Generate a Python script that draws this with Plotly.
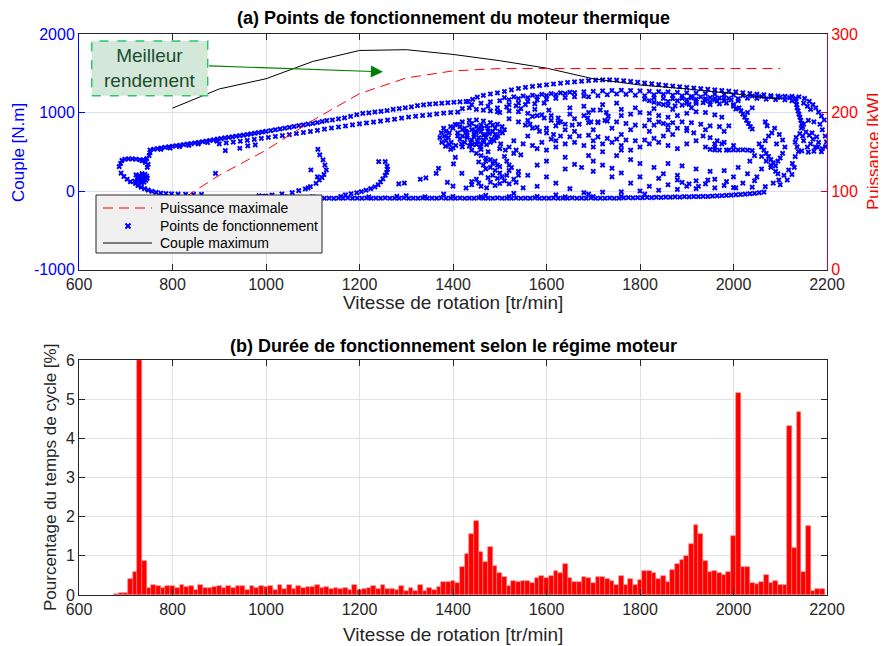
import plotly.graph_objects as go

# (a) courbes de pleine charge
regime_courbes = [800, 900, 1000, 1100, 1200, 1300, 1400, 1500, 1600, 1700, 1800, 1900, 2000, 2100]
puissance_max = [82, 120, 152, 190, 224, 244, 253, 256, 256, 256, 256, 256, 256, 256]
couple_max = [1055, 1300, 1430, 1650, 1790, 1800, 1740, 1660, 1565, 1430, 1350, 1300, 1240, 1170]

# points de fonctionnement (tr/min, N.m), relevés zone par zone
boucle_ralenti = [
    (686, 310), (689, 350), (692, 390), (698, 405), (706, 410), (714, 410), (722, 405), (730, 398),
    (738, 396), (745, 412), (750, 450), (752, 490), (690, 228), (696, 185), (703, 150), (710, 118),
    (722, 205), (725, 175), (727, 145), (730, 120), (734, 105), (739, 112), (743, 135), (746, 162),
    (745, 190), (741, 212), (735, 222), (729, 200), (732, 165), (736, 140), (740, 170), (737, 195),
    (731, 185), (726, 160), (719, 125), (721, 95), (726, 70), (733, 48), (740, 30), (748, 12),
    (756, -5), (765, -18), (775, -27), (786, -33), (798, -37), (812, -40), (828, -41), (845, -42),
    (862, -42), (746, 300), (748, 340), (742, 365), (735, 385),
]
bande_haute = [
    (752, 520), (760, 532), (768, 540), (776, 548), (784, 555), (792, 562), (800, 570), (808, 576),
    (816, 583), (824, 590), (832, 598), (840, 604), (848, 612), (856, 620), (864, 628), (872, 636),
    (880, 644), (888, 652), (896, 660), (904, 668), (912, 676), (920, 684), (928, 690), (936, 698),
    (944, 706), (952, 712), (960, 720), (968, 728), (976, 736), (984, 744), (992, 752), (1000, 760),
    (1010, 770), (1020, 780), (1030, 790), (1040, 800), (1050, 810), (1060, 822), (1070, 832),
    (1080, 842), (1090, 852), (1100, 862), (1110, 872), (1120, 885), (1130, 898), (1142, 905),
    (1155, 918), (1168, 932), (1181, 950), (1194, 972), (1207, 988), (1220, 996), (1233, 1006),
    (1246, 1015), (1259, 1025), (1272, 1040), (1285, 1050), (1298, 1060), (1311, 1072), (1324, 1088),
    (1337, 1098), (1350, 1106), (1363, 1112), (1376, 1118), (1389, 1124), (1402, 1130), (1415, 1136),
    (1428, 1140), (775, 530), (795, 548), (815, 565), (835, 582), (855, 600), (875, 618), (895, 636),
    (913, 515), (944, 544), (961, 574), (977, 587),
]
bande_basse = [
    (900, 600), (915, 612), (930, 622), (945, 634), (960, 645), (975, 658), (990, 670), (1005, 682),
    (1020, 694), (1035, 706), (1050, 718), (1065, 732), (1080, 745), (1095, 758), (1110, 772),
    (1125, 788), (1140, 802), (1155, 815), (1170, 828), (1185, 842), (1200, 855), (1215, 866),
    (1230, 878), (1245, 890), (1260, 902), (1275, 914), (1290, 928), (1305, 942), (1320, 952),
    (1335, 962), (1350, 970), (1365, 982), (1380, 992), (1395, 1000), (1410, 1005),
]
montees_gauche = [
    (999, -63), (1013, -51), (1034, -38), (1056, -21), (1070, 4), (1084, 26), (1095, 55), (1107, 98),
    (1114, 140), (1120, 170), (1124, 210), (1129, 268), (1126, 330), (1122, 396), (1115, 460),
    (1111, 531), (1096, 268), (1110, 180), (1090, 40), (892, 225),
    (1241, 374), (1255, 374), (1259, 315), (1260, 275), (1258, 238), (1255, 200), (1250, 155),
    (1245, 115), (1240, 80), (1233, 52), (1224, 30), (1214, 10), (1204, -8), (1194, -22), (1182, -35),
    (1284, 90), (1296, 102), (1330, 150), (1342, 168), (1364, 225), (1369, 289), (1401, 345),
    (1405, 429), (1419, 225), (1388, 110), (1400, 62), (1428, 38), (1440, 80),
]
amas_1450 = [
    (1400, 800), (1410, 850), (1420, 880), (1435, 900), (1450, 905), (1465, 892), (1480, 872),
    (1495, 850), (1505, 820), (1510, 780), (1506, 740), (1496, 700), (1482, 660), (1466, 622),
    (1450, 592), (1435, 572), (1420, 562), (1406, 580), (1396, 620), (1390, 680), (1392, 740),
    (1420, 700), (1430, 740), (1440, 780), (1450, 820), (1460, 760), (1470, 720), (1455, 680),
    (1440, 650), (1425, 620), (1445, 720), (1460, 840), (1475, 800), (1485, 760), (1490, 720),
    (1430, 680), (1415, 660), (1410, 740), (1425, 800), (1440, 860), (1470, 680), (1480, 620),
    (1460, 600), (1420, 780), (1435, 840), (1455, 790), (1445, 690), (1465, 650), (1415, 820),
    (1450, 740), (1430, 710), (1465, 710), (1475, 760), (1490, 800), (1500, 760), (1410, 700),
    (1438, 620), (1452, 630), (1472, 830), (1485, 840), (1385, 760), (1382, 700), (1385, 640),
    (1392, 590), (1400, 550), (1395, 820), (1405, 845), (1375, 740), (1372, 680), (1376, 620),
    (1384, 570), (1395, 530), (1380, 800), (1440, 520), (1450, 480), (1460, 450), (1470, 420),
    (1480, 400), (1490, 380), (1460, 530), (1475, 500), (1500, 540), (1512, 520), (1455, 370),
    (1465, 330), (1480, 300), (1490, 262), (1500, 230), (1470, 282), (1485, 200), (1495, 160),
    (1510, 130), (1450, 150), (1440, 120), (1480, 112), (1500, 95), (1520, 90), (1530, 150),
    (1515, 200), (1460, 60), (1472, 40), (1490, 70), (1505, 180), (1520, 260), (1525, 300),
    (1495, 330), (1510, 440), (1530, 480),
    (1428, 760), (1448, 760), (1462, 800), (1478, 730), (1492, 680), (1418, 600), (1442, 590),
    (1458, 560), (1472, 590), (1488, 640), (1502, 600), (1520, 560), (1535, 520), (1545, 460),
    (1470, 380), (1485, 350), (1500, 310), (1515, 380), (1460, 230), (1475, 170), (1520, 330),
    (1540, 200), (1535, 110), (1455, 100),
]
bandes_sup = [
    (1432, 1140), (1442, 1168), (1452, 1195), (1465, 1218), (1480, 1236), (1495, 1250), (1510, 1268),
    (1525, 1288), (1540, 1306), (1555, 1320), (1570, 1332), (1585, 1343), (1600, 1353), (1615, 1363),
    (1630, 1373), (1645, 1382), (1660, 1390), (1675, 1398), (1690, 1406), (1705, 1412), (1720, 1415),
    (1735, 1415), (1750, 1412), (1765, 1405), (1780, 1396), (1795, 1386), (1810, 1376), (1825, 1366),
    (1840, 1356), (1855, 1346), (1870, 1337), (1885, 1328), (1900, 1320), (1915, 1312), (1930, 1304),
    (1945, 1296), (1960, 1288), (1975, 1280), (1990, 1272), (2005, 1262), (2020, 1252), (2035, 1242),
    (2050, 1234), (2065, 1226), (2080, 1216), (2095, 1208), (2110, 1205), (2125, 1205), (2140, 1200),
    (2152, 1180), (2162, 1142), (2170, 1100), (2176, 1060), (2182, 1005), (2188, 955), (2194, 905),
    (1440, 1100), (1460, 1118), (1480, 1135), (1500, 1150), (1520, 1162), (1540, 1176), (1560, 1190),
    (1580, 1202), (1600, 1215), (1620, 1226), (1640, 1240), (1660, 1254), (1680, 1264), (1700, 1270),
    (1720, 1276), (1740, 1280), (1760, 1284), (1780, 1280), (1800, 1275), (1820, 1270), (1840, 1266),
    (1860, 1262), (1880, 1257), (1900, 1252), (1920, 1246), (1940, 1240), (1960, 1235), (1980, 1230),
    (2000, 1224), (2020, 1216), (2040, 1210), (2060, 1204), (2080, 1198), (2100, 1194), (2120, 1190),
    (1690, 1200), (1710, 1214), (1730, 1226), (1750, 1236), (1770, 1230), (1790, 1220), (1810, 1214),
    (1830, 1224), (1850, 1230), (1870, 1220), (1890, 1210), (1910, 1204), (1930, 1198), (1950, 1190),
    (1970, 1185), (1990, 1180), (2010, 1175), (2030, 1184), (2050, 1180), (2070, 1170), (2090, 1164),
    (2110, 1160), (2125, 1150),
    (1810, 1170), (1820, 1150), (1830, 1130), (1840, 1112), (1850, 1100), (1860, 1090), (1875, 1084),
    (1890, 1094), (1905, 1104), (1920, 1114), (1935, 1124), (1950, 1134), (1965, 1144), (1980, 1150),
    (1995, 1160), (2010, 1150), (1860, 1140), (1880, 1150), (1900, 1160), (1920, 1170), (1940, 1175),
    (1960, 1180), (1980, 1186), (1830, 1190), (1850, 1180), (1870, 1175), (1890, 1180), (1910, 1186),
    (1900, 1120), (1920, 1135), (1940, 1150), (1960, 1160), (1985, 1120), (2000, 1100), (1970, 1110),
    (1950, 1100),
    (1510, 1190), (1530, 1200), (1550, 1210), (1570, 1220), (1590, 1230), (1610, 1240), (1630, 1250),
    (1650, 1258), (1520, 1100), (1540, 1120), (1560, 1140), (1580, 1160), (1600, 1170), (1620, 1180),
    (1640, 1190), (1660, 1200), (1680, 1210), (1475, 1080), (1495, 1060), (1515, 1070), (1535, 1085),
    (1555, 1100), (1575, 1110), (1595, 1120), (1420, 1050), (1435, 1060), (1450, 1040), (1465, 1030),
    (1480, 1020), (1495, 1010),
]
zone_droite = [
    (2000, 1080), (2005, 1045), (2012, 1060), (2016, 1020), (2020, 980), (2024, 940), (2028, 900),
    (2032, 860), (2036, 820), (2040, 790), (2030, 1000), (2040, 1060),
    (2133, 1180), (2134, 1140), (2135, 1100), (2136, 1060), (2138, 1020), (2140, 980), (2142, 940),
    (2144, 900), (2146, 860), (2148, 820), (2150, 1120), (2158, 1080), (2165, 1040),
    (2182, 620), (2178, 690), (2168, 740), (2155, 752), (2142, 732), (2134, 682), (2132, 622),
    (2136, 562), (2146, 512), (2160, 496), (2172, 506), (2180, 560), (2190, 540), (2197, 565),
    (2199, 625), (2196, 700), (2190, 780), (2185, 850), (2172, 880), (2160, 900), (2150, 850),
    (2145, 800), (2158, 560), (2165, 600), (2150, 640), (2170, 660), (2148, 700), (2162, 710),
    (2175, 560), (2188, 500),
]
zone_milieu = [
    (1500, 1000), (1520, 1020), (1540, 1010), (1560, 990), (1580, 960), (1595, 930), (1610, 900),
    (1625, 870), (1640, 850), (1655, 840), (1670, 850), (1690, 870), (1710, 880), (1730, 890),
    (1750, 880), (1770, 860), (1790, 840), (1810, 830), (1830, 840), (1850, 860), (1870, 870),
    (1890, 880), (1910, 870), (1930, 850), (1950, 830), (1970, 820), (1990, 830),
    (1520, 920), (1540, 880), (1555, 840), (1570, 800), (1585, 760), (1600, 740), (1615, 720),
    (1630, 700), (1650, 690), (1670, 700), (1690, 710), (1710, 690), (1730, 670), (1750, 660),
    (1770, 650), (1790, 640), (1810, 650), (1830, 670), (1850, 700), (1870, 720),
    (1530, 640), (1550, 600), (1570, 580), (1590, 620), (1610, 660), (1560, 700), (1580, 540),
    (1600, 520), (1620, 560), (1640, 600), (1660, 620), (1680, 580), (1700, 560), (1720, 600),
    (1740, 620), (1760, 580), (1780, 520), (1800, 560), (1820, 600), (1840, 620), (1860, 580),
    (1880, 540), (1900, 600), (1920, 640), (1940, 560), (1960, 600), (1980, 620), (2000, 580),
    (1690, 1000), (1700, 1030), (1715, 1032), (1728, 1000), (1732, 950), (1725, 900), (1710, 870),
    (1695, 880), (1688, 930), (1570, 950), (1590, 970), (1610, 960), (1625, 930), (1630, 880),
    (1620, 830), (1600, 800), (1580, 810), (1565, 850), (1560, 900), (1640, 780), (1660, 760),
    (1760, 960), (1780, 980), (1800, 1000), (1820, 990), (1840, 960), (1860, 940), (1880, 960),
    (1900, 990), (1920, 1010), (1940, 1000), (1960, 970), (1975, 940), (1760, 1040), (1790, 1060),
    (1830, 1050), (1870, 1040), (1910, 1060),
    (1545, 1050), (1575, 1040), (1605, 1030), (1650, 1060), (1680, 1080), (1720, 1100), (1750, 1120),
    (1680, 960), (1660, 920), (1650, 980), (1740, 800), (1780, 780), (1820, 760), (1860, 780),
    (1900, 800), (1940, 780), (1980, 760), (1700, 780), (1620, 640), (1700, 640), (1760, 720),
]
zone_basse = [
    (1820, 905), (1840, 880), (1860, 840), (1880, 800), (1900, 770), (1915, 740), (1935, 700),
    (1950, 680), (1965, 640), (1975, 600), (1960, 560), (1950, 530), (1970, 520), (1990, 522),
    (2010, 522), (2030, 520), (2040, 515), (1985, 520), (2020, 525), (2000, 524), (1960, 522),
    (1700, 380), (1720, 330), (1740, 290), (1760, 230), (1800, 180), (1840, 160), (1880, 140),
    (1920, 130), (1960, 150), (2000, 180), (2030, 220), (2060, 280), (2080, 330), (2095, 380),
    (1830, 300), (1860, 350), (1890, 320), (1920, 280), (1950, 250), (1980, 260), (2010, 300),
    (1850, 220), (1880, 200), (1780, 400), (1800, 350), (1750, 450), (1690, 450), (1720, 500),
    (1760, 520), (2055, 600), (2060, 560), (2065, 520), (2070, 480), (2075, 440), (2080, 400),
    (2085, 360), (2090, 320), (2060, 440), (2070, 380), (2080, 300), (2090, 250), (2095, 220),
    (2068, 640), (2075, 700), (2082, 740), (2088, 800), (2072, 830), (2068, 880),
    (2068, 55), (2085, 100), (2097, 140), (2108, 200), (2118, 268), (2126, 350), (2132, 438),
    (2139, 502), (2100, 80), (2115, 140), (2125, 210), (2130, 300),
    (1680, -20), (1720, -15), (1760, -10), (1800, 0), (1840, 10), (1880, 20), (1920, 30),
    (1960, 40), (2000, 45), (2040, 50),
    (1540, 250), (1560, 200), (1600, 180), (1640, 280), (1660, 340), (1620, 100), (1580, 60),
    (1700, 250), (1740, 180), (1780, 100), (1820, 60), (1860, 80), (1900, 60), (1940, 90),
    (1980, 70), (2020, 100), (1550, 40), (1650, 30), (1600, 380), (1580, 330), (1640, 430),
    (1675, 300),
    (1905, 90), (1925, 60), (1945, 140), (1985, 120), (2005, 40), (2045, 130), (1890, 110),
    (2050, 180), (2035, 380), (2045, 450), (2100, 420), (2105, 480), (2110, 560), (2105, 650),
    (2098, 720), (2092, 600),
]
ligne_basse = [
    (985, -60), (995, -70), (1005, -80), (1015, -85), (1025, -88), (1035, -90), (1045, -88),
    (1055, -92), (1065, -90), (1075, -88), (1085, -92), (1095, -90), (1105, -93), (1115, -88),
    (1125, -92), (1135, -90), (1145, -94), (1155, -90), (1165, -92), (1175, -88), (1185, -93),
    (1195, -90), (1205, -92), (1215, -89), (1225, -93), (1235, -90), (1245, -92), (1255, -88),
    (1265, -93), (1275, -90), (1285, -92), (1295, -88), (1305, -93), (1315, -90), (1325, -92),
    (1335, -89), (1345, -93), (1355, -90), (1365, -92), (1375, -88), (1385, -93), (1395, -90),
    (1405, -92), (1415, -89), (1425, -93), (1435, -90), (1445, -92), (1455, -88), (1465, -93),
    (1475, -90), (1485, -92), (1495, -88), (1505, -93), (1515, -90), (1525, -92), (1535, -89),
    (1545, -93), (1555, -90), (1565, -92), (1575, -88), (1585, -93), (1595, -90), (1605, -92),
    (1615, -89), (1625, -93), (1635, -90), (1645, -92), (1655, -88), (1665, -93), (1675, -90),
    (1685, -92), (1695, -88), (1705, -93), (1715, -90), (1725, -92), (1735, -89), (1745, -93),
    (1755, -90), (1765, -88), (1775, -85), (1785, -88), (1795, -84), (1805, -86), (1815, -82),
    (1825, -85), (1835, -80), (1845, -83), (1855, -78), (1865, -80), (1875, -75), (1885, -78),
    (1895, -72), (1905, -75), (1915, -70), (1925, -72), (1935, -68), (1945, -70), (1955, -65),
    (1965, -62), (1975, -60), (1985, -55), (1995, -52), (2005, -48), (2015, -45), (2025, -40),
    (2035, -35), (2045, -30), (2055, -22), (2065, -15),
    (1040, -72), (1100, -75), (1160, -70), (1220, -74), (1280, -68), (1340, -75), (1400, -70),
    (1460, -74), (1520, -72), (1580, -70), (1640, -74), (1700, -72), (1760, -68), (1170, -50),
    (1300, -60), (1380, -40), (1470, -55), (1530, -30), (1620, -50), (1690, -40), (1810, -40),
]

# (b) histogramme : centres des classes de 10 tr/min et durée (%)
regime_classes = list(range(680, 2200, 10))
duree = [
    0.03, 0.06, 0.06, 0.41, 0.58, 6.0, 0.86,
    0.19, 0.25, 0.22, 0.17, 0.23, 0.23, 0.19, 0.25, 0.20, 0.23,
    0.12, 0.25, 0.19, 0.19, 0.21, 0.23, 0.19, 0.23, 0.17, 0.23,
    0.23, 0.14, 0.23, 0.19, 0.23, 0.20, 0.23, 0.14, 0.25, 0.15,
    0.25, 0.15, 0.23, 0.17, 0.20, 0.20, 0.25, 0.17, 0.20,
    0.145, 0.18, 0.16, 0.18, 0.13, 0.26, 0.12, 0.16, 0.18, 0.23,
    0.145, 0.25, 0.145, 0.16, 0.13, 0.23, 0.10, 0.18, 0.10, 0.25,
    0.10, 0.18, 0.13, 0.20, 0.32, 0.34, 0.36, 0.30, 0.72, 1.04,
    1.56, 1.88, 1.11, 0.83, 1.22, 0.74, 0.56, 0.46, 0.22, 0.36,
    0.34, 0.37, 0.36, 0.31, 0.44, 0.49, 0.44, 0.49, 0.62, 0.57,
    0.78, 0.44, 0.33, 0.34, 0.45, 0.43, 0.31, 0.45, 0.45, 0.41,
    0.35, 0.26, 0.49, 0.26, 0.41, 0.25, 0.38, 0.62, 0.62, 0.55,
    0.42, 0.49, 0.32, 0.64, 0.78, 0.89, 1.00, 1.29, 1.78, 1.56,
    0.88, 0.58, 0.62, 0.57, 0.52, 0.58, 1.51, 5.17, 0.72, 0.72,
    0.31, 0.28, 0.34, 0.50, 0.31, 0.37, 0.26, 0.25, 4.31, 1.21,
    4.66, 0.58, 1.76, 0.10, 0.145, 0.145,
]

points = (boucle_ralenti + bande_haute + bande_basse + montees_gauche + amas_1450
          + bandes_sup + zone_droite + zone_milieu + zone_basse + ligne_basse)
regime_pts = [p[0] for p in points]
couple_pts = [p[1] for p in points]

FONT = "Liberation Sans, Arial, sans-serif"
GRIS = "#262626"
BLEU = "#0000ff"
ROUGE = "#ff0000"

# la page ajoute 8 px de marge : figure de 878x638, zone de tracé x 79..827 / y 34..595 (page)
OFF = 8
W, H = 886 - OFF, 646 - OFF
ML, MT = 79 - OFF, 34 - OFF
MR, MB = W - (827 - OFF), H - (595 - OFF)
LARG = W - ML - MR
HAUT = H - MT - MB


def px(x):
    return (x - OFF - ML) / LARG


def py(y):
    return 1 - (y - OFF - MT) / HAUT


fig = go.Figure()

fig.add_trace(go.Scatter(
    x=regime_pts, y=couple_pts, mode="markers", showlegend=False,
    marker=dict(symbol="x", size=5, color=BLEU, line=dict(width=0)),
    xaxis="x", yaxis="y",
))
fig.add_trace(go.Scatter(
    x=regime_courbes, y=couple_max, mode="lines", showlegend=False,
    line=dict(color="black", width=1), xaxis="x", yaxis="y",
))
fig.add_trace(go.Scatter(
    x=regime_courbes, y=puissance_max, mode="lines", showlegend=False,
    line=dict(color=ROUGE, width=1, dash="10px,6px"), xaxis="x", yaxis="y2",
))
fig.add_trace(go.Bar(
    x=regime_classes, y=duree, width=10, showlegend=False,
    marker=dict(color=ROUGE, line=dict(color="#ff8080", width=0.6)),
    xaxis="x2", yaxis="y3",
))

ticks_x = [600, 800, 1000, 1200, 1400, 1600, 1800, 2000, 2200]
axe_x = dict(
    domain=[0, 1], range=[600, 2200], tickvals=ticks_x, showgrid=True, gridcolor="#e2e2e2",
    showline=True, linecolor=GRIS, linewidth=1, mirror="ticks", ticks="inside", ticklen=6,
    tickcolor=GRIS, tickfont=dict(size=16, color=GRIS), zeroline=False, automargin=False,
)

fig.update_layout(
    width=W, height=H,
    margin=dict(l=ML, r=MR, t=MT, b=MB, autoexpand=False),
    paper_bgcolor="white", plot_bgcolor="white",
    font=dict(family=FONT, size=16, color=GRIS),
    bargap=0, showlegend=False,
    xaxis=dict(axe_x, anchor="y"),
    yaxis=dict(
        domain=[py(269.5), 1], anchor="x", range=[-1000, 2000],
        tickvals=[-1000, 0, 1000, 2000], ticktext=["-1000", "0", "1000", "2000"],
        showgrid=True, gridcolor="#dcdcff", showline=True, linecolor=BLEU, linewidth=1,
        ticks="inside", ticklen=6, tickcolor=BLEU, tickfont=dict(size=16, color=BLEU),
        zeroline=False, automargin=False,
    ),
    yaxis2=dict(
        overlaying="y", side="right", anchor="x", range=[0, 300], tickvals=[0, 100, 200, 300],
        showgrid=False, showline=True, linecolor="#d0003a", linewidth=1, ticks="inside",
        ticklen=6, tickcolor="#d0003a", tickfont=dict(size=16, color=ROUGE), zeroline=False,
        automargin=False,
    ),
    xaxis2=dict(axe_x, anchor="y3"),
    yaxis3=dict(
        domain=[0, py(360)], anchor="x2", range=[0, 6], dtick=1,
        showgrid=True, gridcolor="#e2e2e2", showline=True, linecolor=GRIS, linewidth=1,
        mirror="ticks", ticks="inside", ticklen=6, tickcolor=GRIS,
        tickfont=dict(size=16, color=GRIS), zeroline=False, automargin=False,
    ),
)

shapes = [
    # encadré "Meilleur rendement"
    dict(type="rect", xref="paper", yref="paper",
         x0=px(91.7), x1=px(207.7), y0=py(95.7), y1=py(41),
         fillcolor="rgb(212,232,218)", line=dict(color="rgb(40,200,100)", width=1.5, dash="dash"),
         layer="above"),
    # légende
    dict(type="rect", xref="paper", yref="paper", x0=px(96), x1=px(322), y0=py(253), y1=py(195),
         fillcolor="#f0f0f0", line=dict(color=GRIS, width=1), layer="above"),
    dict(type="line", xref="paper", yref="paper", x0=px(103), x1=px(152), y0=py(208), y1=py(208),
         line=dict(color=ROUGE, width=1, dash="10px,6px"), layer="above"),
    dict(type="line", xref="paper", yref="paper", x0=px(125.5), x1=px(130.5), y0=py(223.5),
         y1=py(228.5), line=dict(color=BLEU, width=2), layer="above"),
    dict(type="line", xref="paper", yref="paper", x0=px(125.5), x1=px(130.5), y0=py(228.5),
         y1=py(223.5), line=dict(color=BLEU, width=2), layer="above"),
    dict(type="line", xref="paper", yref="paper", x0=px(103), x1=px(152), y0=py(243), y1=py(243),
         line=dict(color="black", width=1), layer="above"),
]
fig.update_layout(shapes=shapes)


def texte(t, x, y, taille, couleur, angle=0, ancre="center"):
    return dict(text=t, x=px(x), y=py(y), xref="paper", yref="paper", showarrow=False,
                textangle=angle, xanchor=ancre, yanchor="middle",
                font=dict(size=taille, color=couleur))


annotations = [
    texte("<b>(a) Points de fonctionnement du moteur thermique</b>", 453, 18, 18, "black"),
    texte("<b>(b) Durée de fonctionnement selon le régime moteur</b>", 453, 346, 18, "black"),
    texte("Vitesse de rotation [tr/min]", 453, 302, 19, GRIS),
    texte("Vitesse de rotation [tr/min]", 453, 634, 19, GRIS),
    texte("Couple [N.m]", 18, 152, 17, BLEU, -90),
    texte("Puissance [kW]", 873, 152, 17, ROUGE, -90),
    texte("Pourcentage du temps de cycle [%]", 50, 478, 17, GRIS, -90),
    texte("Meilleur<br>rendement", 149.7, 68, 19, "#1b4d2e"),
    texte("Puissance maximale", 158, 208, 14, "black", ancre="left"),
    texte("Points de fonctionnement", 158, 226, 14, "black", ancre="left"),
    texte("Couple maximum", 158, 243, 14, "black", ancre="left"),
    dict(text="", x=1250, y=1518, ax=875, ay=1594, xref="x", yref="y", axref="x", ayref="y",
         showarrow=True, arrowhead=2, arrowsize=2, arrowwidth=1.2, arrowcolor="#008000"),
]
fig.update_layout(annotations=annotations)

fig.write_html("out.html")
